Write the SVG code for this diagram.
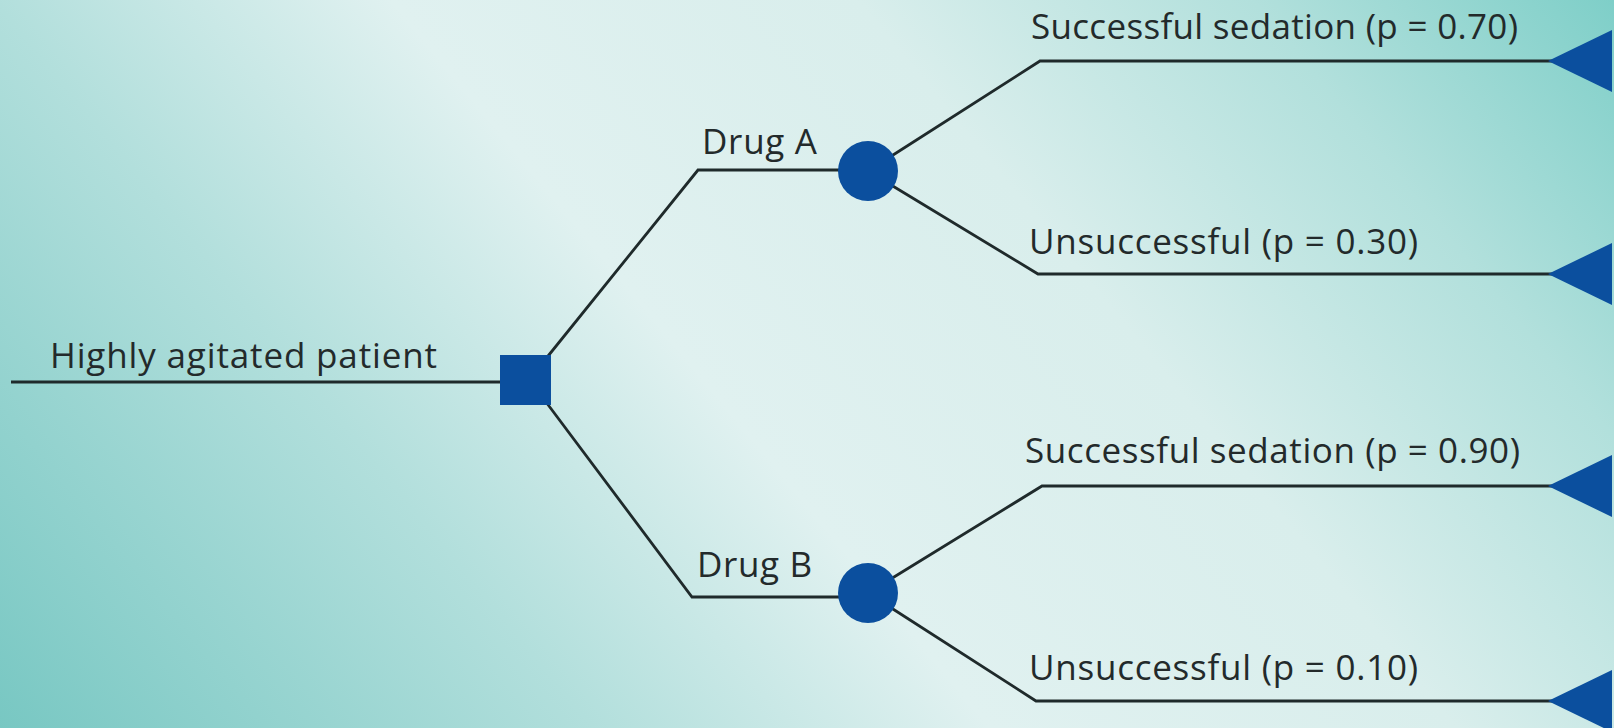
<svg xmlns="http://www.w3.org/2000/svg" width="1614" height="728" viewBox="0 0 1614 728">
<defs>
<linearGradient id="bg" gradientUnits="userSpaceOnUse" x1="112" y1="936" x2="1502" y2="-208">
<stop offset="0" stop-color="#72c5c0"/>
<stop offset="0.28" stop-color="#b2dfdc"/>
<stop offset="0.45" stop-color="#e0f1f0"/>
<stop offset="0.65" stop-color="#d9eeec"/>
<stop offset="0.82" stop-color="#b2e0dc"/>
<stop offset="1" stop-color="#76ccc5"/>
</linearGradient>
<style>
.ln{fill:none;stroke:#1f2a2b;stroke-width:2.8}
.nd{fill:#0b4f9e}
.tx{font-family:"Open Sans","Liberation Sans",sans-serif;font-size:35px;fill:#232a2b}
</style>
</defs>
<rect x="0" y="0" width="1614" height="728" fill="url(#bg)"/>
<g id="connectors">
<polyline class="ln" points="11,382 525,382"/>
<polyline class="ln" points="540,366 698,170 868,170"/>
<polyline class="ln" points="540,394 692,597 868,597"/>
<polyline class="ln" points="868,171 1040,61 1560,61"/>
<polyline class="ln" points="868,171 1038,274 1560,274"/>
<polyline class="ln" points="868,593 1042,486 1560,486"/>
<polyline class="ln" points="868,593 1036,701 1560,701"/>
</g>
<g id="root">
<rect class="nd" x="500" y="355" width="51" height="50"/>
<text class="tx" x="50" y="368" textLength="387">Highly agitated patient</text>
</g>
<g id="drugA">
<circle class="nd" cx="868" cy="171" r="30"/>
<text class="tx" x="702" y="154" textLength="115">Drug A</text>
</g>
<g id="drugB">
<circle class="nd" cx="868" cy="593" r="30"/>
<text class="tx" x="697" y="577" textLength="115">Drug B</text>
</g>
<g id="a-success">
<polygon class="nd" points="1548,61 1612,30 1612,92"/>
<text class="tx" x="1031" y="39" textLength="487">Successful sedation (p = 0.70)</text>
</g>
<g id="a-fail">
<polygon class="nd" points="1548,274 1612,243 1612,305"/>
<text class="tx" x="1029" y="254" textLength="389">Unsuccessful (p = 0.30)</text>
</g>
<g id="b-success">
<polygon class="nd" points="1548,486 1612,455 1612,517"/>
<text class="tx" x="1025" y="463" textLength="495">Successful sedation (p = 0.90)</text>
</g>
<g id="b-fail">
<polygon class="nd" points="1548,701 1612,670 1612,732"/>
<text class="tx" x="1029" y="680" textLength="389">Unsuccessful (p = 0.10)</text>
</g>
</svg>
